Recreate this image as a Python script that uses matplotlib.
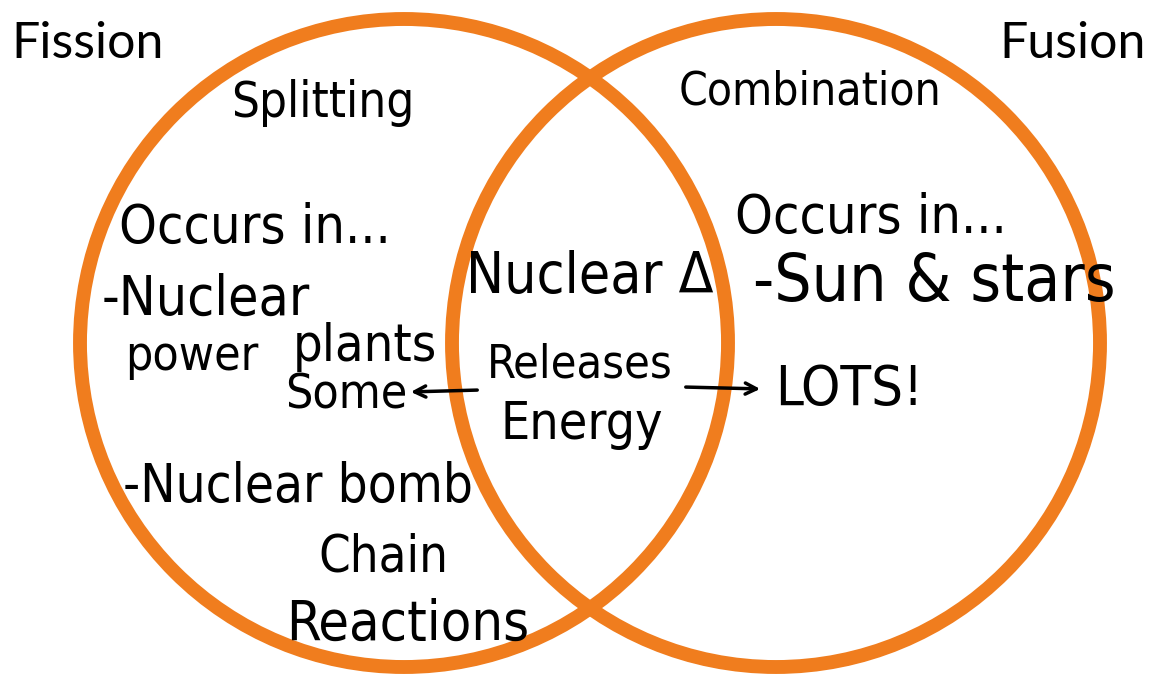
import matplotlib.pyplot as plt
from matplotlib.patches import Circle
from matplotlib import font_manager

# the two sets of the Venn diagram
set_names = ["Fission", "Fusion"]
set_centers = [(404, 343), (776, 343)]
set_radius = 324

# notes written inside the circles
notes = ["Splitting", "Combination",
         "Occurs in...", "-Nuclear", "power", "plants", "Some",
         "-Nuclear bomb", "Chain", "Reactions",
         "Nuclear \u0394", "Releases", "Energy",
         "Occurs in...", "-Sun & stars", "LOTS!"]
note_xy = [(323, 103), (810, 92),
           (255, 228), (206, 300), (192, 356), (365, 347), (346, 395),
           (298, 487), (383, 558), (408, 625),
           (590, 278), (580, 365), (582, 425),
           (871, 218), (934, 283), (849, 390)]
note_width = [183, 262,
              272, 208, 133, 144, 122,
              350, 130, 243,
              247, 185, 162,
              272, 362, 148]

orange = "#F07D1E"

# look for a narrow face, the notes are tall and thin handwriting
files = [f.fname for f in font_manager.fontManager.ttflist]
wanted = ["DejaVuSansCondensed.ttf", "LiberationSansNarrow-Regular",
          "RobotoCondensed-Regular", "OpenSans_Condensed-Regular",
          "OpenSansCondensed", "NotoSans-Condensed.ttf",
          "NotoSans-CondensedRegular", "Roboto_Condensed"]
hand = font_manager.FontProperties(family="DejaVu Sans")
for w in wanted:
    hits = [f for f in files if w in f]
    if hits:
        hand = font_manager.FontProperties(fname=hits[0])
        break

fig = plt.figure(figsize=(11.53, 6.78), dpi=100)
ax = fig.add_axes([0, 0, 1, 1])
ax.set_xlim(0, 1153)
ax.set_ylim(678, 0)
ax.set_aspect("equal")
ax.axis("off")

for c in set_centers:
    ax.add_patch(Circle(c, set_radius, fill=False, ec=orange, lw=10))

ax.text(11, 44, set_names[0], fontsize=36, family="Lato",
        ha="left", va="center", color="black")
ax.text(1146, 44, set_names[1], fontsize=36, family="Lato",
        ha="right", va="center", color="black")

fig.canvas.draw()
rend = fig.canvas.get_renderer()
for txt, (x, y), w in zip(notes, note_xy, note_width):
    t = ax.text(x, y, txt, fontproperties=hand, fontsize=40, ha="center",
                va="center", color="black")
    bb = t.get_window_extent(rend)
    t.set_fontsize(40 * w / bb.width)

# arrows from "Releases"
ax.annotate("", xy=(408, 392), xytext=(480, 390),
            arrowprops=dict(arrowstyle="->", lw=2.5, color="black",
                            mutation_scale=20))
ax.annotate("", xy=(763, 389), xytext=(683, 387),
            arrowprops=dict(arrowstyle="->", lw=2.5, color="black",
                            mutation_scale=20))

fig.savefig("out.png", dpi=100)
